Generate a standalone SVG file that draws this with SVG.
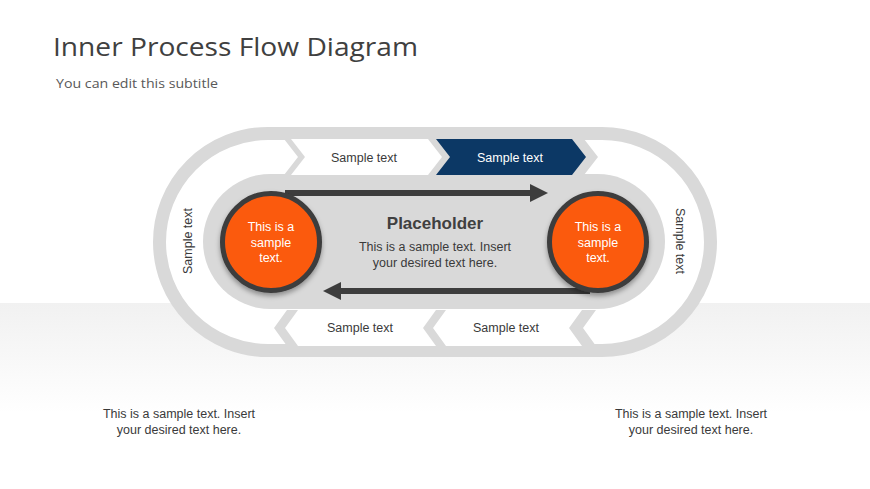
<svg xmlns="http://www.w3.org/2000/svg" width="870" height="489" viewBox="0 0 870 489">
  <defs>
    <linearGradient id="bg" x1="0" y1="0" x2="0" y2="1">
      <stop offset="0" stop-color="#f1f1f1"/>
      <stop offset="1" stop-color="#ffffff"/>
    </linearGradient>
    <filter id="sh" x="-20%" y="-20%" width="140%" height="150%">
      <feDropShadow dx="0" dy="3" stdDeviation="2.5" flood-color="#000" flood-opacity="0.35"/>
    </filter>
  </defs>
  <style>
    .ring { fill: #ffffff; stroke: #d9d9d9; stroke-width: 13; }
    .grey { fill: #d9d9d9; }
    .wchev { fill: #ffffff; }
    .nchev { fill: #0c3865; }
    .lbl { font-family: "Liberation Sans", Arial, sans-serif; font-size: 12.5px; fill: #3a3a3a; text-anchor: middle; }
    .lblw { fill: #ffffff; }
    .circ { fill: #fb5a10; stroke: #3d3d3d; stroke-width: 5; }
    .ctext { font-family: "Liberation Sans", Arial, sans-serif; font-size: 12.5px; fill: #ffffff; text-anchor: middle; }
    .body { font-family: "Liberation Sans", Arial, sans-serif; font-size: 12.5px; fill: #3a3a3a; text-anchor: middle; }
    .bar { fill: #3d3d3d; }
  </style>

  <rect x="0" y="0" width="870" height="489" fill="#ffffff"/>
  <rect x="0" y="303" width="870" height="110" fill="url(#bg)"/>

  <text x="53" y="56" font-family="'Open Sans', 'Noto Sans', sans-serif" font-size="26" fill="#404040" textLength="365" lengthAdjust="spacingAndGlyphs">Inner Process Flow Diagram</text>
  <text x="56" y="88" font-family="'Open Sans', 'Noto Sans', sans-serif" font-size="13.5" fill="#595959" textLength="162" lengthAdjust="spacingAndGlyphs">You can edit this subtitle</text>

  <g id="outer-ring">
    <rect class="ring" x="159.5" y="133.5" width="551" height="217" rx="108.5"/>
  </g>

  <g id="inner-panel">
    <rect class="grey" x="203" y="174" width="462" height="135" rx="67.5"/>
  </g>

  <g id="top-chevrons">
    <polygon class="grey" points="284,139 584,139 598,157 584,175 284,175 298,157"/>
    <g id="chevron-top-1">
      <polygon class="wchev" points="291,139 428,139 442,157 428,175 291,175 305,157"/>
      <text class="lbl" x="364" y="161.5">Sample text</text>
    </g>
    <g id="chevron-top-2">
      <polygon class="nchev" points="436,139 572,139 586,157 572,175 436,175 450,157"/>
      <text class="lbl lblw" x="510" y="161.5">Sample text</text>
    </g>
  </g>

  <g id="bottom-chevrons">
    <polygon class="grey" points="274,328 287,310 596,310 583,328 596,346 287,346"/>
    <g id="chevron-bottom-1">
      <polygon class="wchev" points="285,328 298,310 436,310 423,328 436,346 298,346"/>
      <text class="lbl" x="360" y="332">Sample text</text>
    </g>
    <g id="chevron-bottom-2">
      <polygon class="wchev" points="433,328 446,310 582,310 569,328 582,346 446,346"/>
      <text class="lbl" x="506" y="332">Sample text</text>
    </g>
  </g>

  <g id="side-left">
    <text class="lbl" transform="translate(192,241) rotate(-90)">Sample text</text>
  </g>
  <g id="side-right">
    <text class="lbl" transform="translate(676,241) rotate(90)">Sample text</text>
  </g>

  <g id="connectors">
    <g id="arrow-top">
      <rect class="bar" x="285" y="190" width="248" height="6"/>
      <polygon class="bar" points="530,184 548,193 530,202"/>
    </g>
    <g id="arrow-bottom">
      <rect class="bar" x="338" y="288" width="252" height="6"/>
      <polygon class="bar" points="341,282 323,291 341,300"/>
    </g>
  </g>

  <g id="placeholder">
    <text x="435" y="229" font-family="'Liberation Sans', Arial, sans-serif" font-size="17" font-weight="bold" fill="#404040" text-anchor="middle">Placeholder</text>
    <text class="body" x="435" y="251">This is a sample text. Insert</text>
    <text class="body" x="435" y="267">your desired text here.</text>
  </g>

  <g id="circle-left">
    <circle class="circ" cx="271" cy="242" r="48.5" filter="url(#sh)"/>
    <text class="ctext" x="271" y="231">This is a</text>
    <text class="ctext" x="271" y="247">sample</text>
    <text class="ctext" x="271" y="262">text.</text>
  </g>

  <g id="circle-right">
    <circle class="circ" cx="598" cy="242" r="48.5" filter="url(#sh)"/>
    <text class="ctext" x="598" y="231">This is a</text>
    <text class="ctext" x="598" y="247">sample</text>
    <text class="ctext" x="598" y="262">text.</text>
  </g>

  <g id="note-left">
    <text class="body" x="179" y="418">This is a sample text. Insert</text>
    <text class="body" x="179" y="434">your desired text here.</text>
  </g>
  <g id="note-right">
    <text class="body" x="691" y="418">This is a sample text. Insert</text>
    <text class="body" x="691" y="434">your desired text here.</text>
  </g>
</svg>
